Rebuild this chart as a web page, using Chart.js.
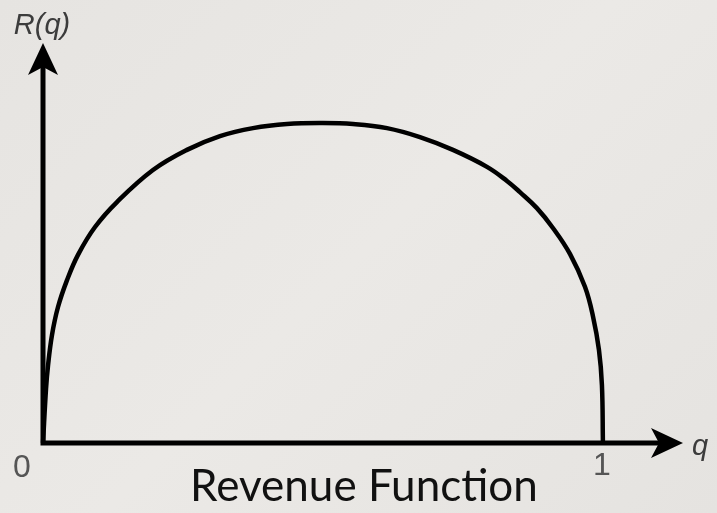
<!DOCTYPE html>
<html>
<head>
<meta charset="utf-8">
<script src="https://cdn.jsdelivr.net/npm/chart.js@4"></script>
<style>
    html, body { margin: 0; padding: 0; }
    body {
        width: 717px;
        height: 513px;
        background: linear-gradient(135deg, #e6e4e1 0%, #ebe9e6 50%, #e5e3e0 100%);
        overflow: hidden;
    }
    #wrap { position: relative; width: 717px; height: 513px; }
</style>
</head>
<body>
<div id="wrap"><canvas id="chart" width="717" height="513"></canvas></div>
<script>
// Revenue curve (q from 0 to 1, R normalised to its peak)
const qValues = [0, 0.0054, 0.0089, 0.0161, 0.0268, 0.0429, 0.0625, 0.0929, 0.1321, 0.1964, 0.2571, 0.3161,
    0.375, 0.4357, 0.5, 0.5536, 0.6143, 0.6732, 0.7321, 0.7929, 0.8286, 0.8518, 0.8821, 0.9107, 0.9411,
    0.9679, 0.9821, 0.9929, 0.9982, 1];
const revenueValues = [0, 0.169, 0.241, 0.338, 0.425, 0.509, 0.588, 0.675, 0.753, 0.853, 0.916, 0.959,
    0.984, 0.997, 1.0, 0.997, 0.984, 0.956, 0.916, 0.863, 0.819, 0.784, 0.734, 0.672, 0.591,
    0.488, 0.397, 0.291, 0.181, 0];

const xTickLabels = ['0', '1'];
const yAxisLabel = 'R(q)';
const xAxisLabel = 'q';
const chartTitle = 'Revenue Function';

// axes go a little beyond the curve so the arrow heads fit
const X_MAX = 1.143;
const Y_MAX = 1.25;

const points = qValues.map((q, i) => ({ x: q, y: revenueValues[i] }));

function arrowHead(ctx, tipX, tipY, dirX, dirY, len, half) {
    const bx = tipX - dirX * len;
    const by = tipY - dirY * len;
    ctx.beginPath();
    ctx.moveTo(tipX, tipY);
    ctx.lineTo(bx - dirY * half, by + dirX * half);
    ctx.lineTo(tipX - dirX * len * 0.75, tipY - dirY * len * 0.75);
    ctx.lineTo(bx + dirY * half, by - dirX * half);
    ctx.closePath();
    ctx.fill();
}

const axesPlugin = {
    id: 'axesPlugin',
    beforeDatasetsDraw(chart) {
        const { ctx, scales: { x, y } } = chart;
        const x0 = x.getPixelForValue(0);
        const y0 = y.getPixelForValue(0);
        const xEnd = x.getPixelForValue(X_MAX);
        const yEnd = y.getPixelForValue(Y_MAX);

        ctx.save();
        ctx.strokeStyle = '#000';
        ctx.fillStyle = '#000';
        ctx.lineWidth = 5;
        ctx.lineCap = 'square';
        ctx.beginPath();
        ctx.moveTo(x0, yEnd + 20);
        ctx.lineTo(x0, y0);
        ctx.lineTo(xEnd - 20, y0);
        ctx.stroke();

        arrowHead(ctx, xEnd, y0, 1, 0, 32, 15);
        arrowHead(ctx, x0, yEnd, 0, -1, 32, 15);
        ctx.restore();
    },
    afterDatasetsDraw(chart) {
        const { ctx, scales: { x, y } } = chart;
        const x0 = x.getPixelForValue(0);
        const y0 = y.getPixelForValue(0);
        const x1 = x.getPixelForValue(1);
        const xEnd = x.getPixelForValue(X_MAX);
        const yEnd = y.getPixelForValue(Y_MAX);

        ctx.save();
        ctx.fillStyle = '#3c3c3c';
        ctx.textBaseline = 'alphabetic';

        ctx.font = 'italic 29px "Liberation Sans", Arial, sans-serif';
        ctx.textAlign = 'center';
        ctx.fillText(yAxisLabel, x0 - 1, yEnd - 9);
        ctx.textAlign = 'left';
        ctx.fillText(xAxisLabel, xEnd + 9, y0 + 12);

        ctx.fillStyle = '#555';
        ctx.font = '32px "Liberation Sans", Arial, sans-serif';
        ctx.textAlign = 'center';
        ctx.fillText(xTickLabels[0], x0 - 21, y0 + 34);
        ctx.fillText(xTickLabels[1], x1 - 1, y0 + 32);

        ctx.fillStyle = '#111';
        ctx.font = '44px Lato, "Open Sans", sans-serif';
        ctx.textAlign = 'center';
        ctx.fillText(chartTitle, (x0 + x1) / 2 + 41, y0 + 58);
        ctx.restore();
    }
};

new Chart(document.getElementById('chart'), {
    type: 'scatter',
    data: {
        datasets: [{
            data: points,
            showLine: true,
            borderColor: '#000',
            borderWidth: 4.5,
            pointRadius: 0,
            tension: 0.4,
            clip: false
        }]
    },
    options: {
        responsive: false,
        animation: false,
        layout: {
            padding: { left: 43, right: 34, top: 43, bottom: 70 }
        },
        plugins: {
            legend: { display: false },
            tooltip: { enabled: false },
            title: { display: false }
        },
        scales: {
            x: { type: 'linear', min: 0, max: X_MAX, display: false },
            y: { type: 'linear', min: 0, max: Y_MAX, display: false }
        }
    },
    plugins: [axesPlugin]
});
</script>
</body>
</html>
